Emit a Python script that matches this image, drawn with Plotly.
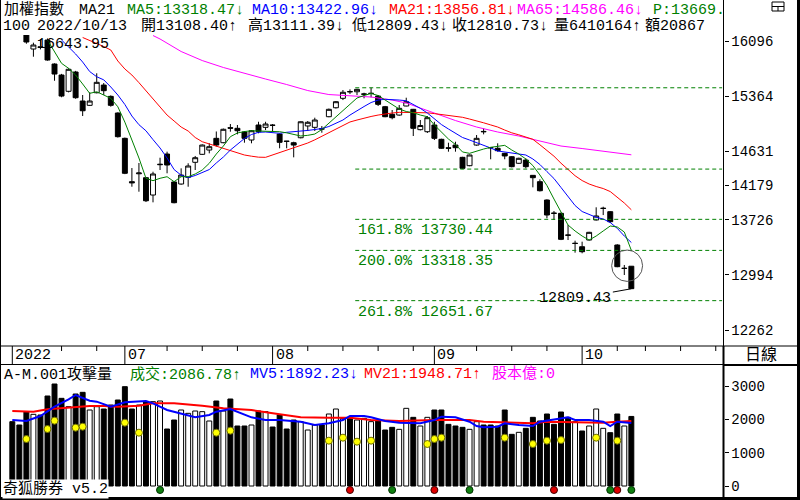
import plotly.graph_objects as go

# ---------------- data ----------------
idx = list(range(89))
opens = [16620, 16530, 16300, 15990, 16020, 16109, 15791, 15645, 15429, 15685,
         15300, 15243, 15410, 15512, 15362, 15141, 14805, 14230, 14335, 14283,
         14053, 14455, 14597, 14226, 14199, 14288, 14487, 14593, 14650, 14805,
         14747, 14946, 14938, 14889, 14783, 14982, 14951, 14980, 14862, 14768,
         14747, 14813, 14969, 14951, 14932, 15092, 15211, 15336, 15425, 15423,
         15390, 15400, 15366, 15225, 15124, 15114, 15234, 15190, 14920, 14893,
         14982, 14792, 14680, 14716, 14553, 14442, 14716, 14897, 14682, 14673,
         14606, 14561, 14474, 14517, 14314, 14230, 13987, 13813, 13810, 13522,
         13410, 13367, 13456, 13722, 13874, 13832, 13390, 13078, 13108.40]
highs = [16643.95, 16560, 16330, 16074, 16120, 16130, 15800, 15660, 15735, 15700,
         15380, 15416, 15668, 15539, 15375, 15150, 14815, 14411, 14478, 14290,
         14362, 14548, 14628, 14235, 14407, 14474, 14571, 14725, 14739, 14896,
         14935, 14995, 14982, 14902, 14915, 15025, 15025, 14995, 14870, 14771,
         14760, 15030, 15035, 15079, 14968, 15200, 15300, 15446, 15455, 15462,
         15410, 15475.89, 15380, 15235, 15181, 15247, 15344, 15195, 15048, 15101,
         15025, 14800, 14747, 14760, 14560, 14590, 14849, 14938, 14690, 14739,
         14612, 14570, 14548, 14540, 14318, 14261, 13995, 13841, 13820, 13655,
         13447, 13434, 13565, 13890, 13898, 13840, 13400, 13125, 13111.39]
lows = [16560, 16380, 16060, 15888, 15985, 15835, 15569, 15350, 15415, 15330,
        15101, 15235, 15402, 15380, 15225, 14815, 14330, 14163, 14097, 13960,
        13956, 14385, 14341, 13943, 14190, 14163, 14385, 14585, 14606, 14697,
        14740, 14893, 14858, 14747, 14739, 14872, 14915, 14893, 14673, 14673,
        14553, 14805, 14902, 14902, 14880, 15085, 15200, 15313, 15393, 15380,
        15336, 15349, 15234, 15085, 15057, 15105, 15230, 14836, 14910, 14876,
        14783, 14665, 14628, 14628, 14397.12, 14435, 14707, 14858, 14527, 14628,
        14527, 14420, 14466, 14407, 14155, 14100, 13744, 13722, 13455, 13456,
        13288, 13280, 13450, 13715, 13787, 13682, 13095, 12992, 12809.43]
closes = [16590, 16440, 16083, 16043, 16010, 15844, 15658, 15366, 15721, 15344,
          15171, 15300, 15548, 15437, 15243, 14827, 14341, 14215, 14345, 13977,
          14332, 14460, 14451, 13951, 14318, 14438, 14548, 14716, 14694, 14716,
          14925, 14940, 14906, 14805, 14906, 14893, 14995, 14978, 14752, 14765,
          14716, 15025, 15018, 15048, 14929, 15190, 15291, 15416, 15423, 15455,
          15393, 15402, 15256, 15092, 15079, 15203, 15291, 14938, 14975, 15079,
          14805, 14673, 14673, 14681, 14407, 14584, 14805, 14893, 14680, 14641,
          14571, 14429, 14540, 14429, 14283, 14110, 13788, 13810, 13465, 13520,
          13412, 13301, 13558, 13775, 13877, 13699, 13102, 13081, 12810.73]
volumes = [1930, 1830, 2230, 2150, 2130, 2700, 3060, 2630, 2380, 2760,
           2810, 2280, 2380, 2310, 2430, 2580, 2980, 2310, 2430, 2530,
           2530, 2550, 1710, 1980, 2280, 2180, 2250, 2230, 1950, 2550,
           2250, 2610, 1800, 1800, 1830, 2250, 2230, 1770, 2130, 1710,
           1980, 1930, 1680, 1830, 1830, 2160, 2310, 2030, 2050, 1980,
           2030, 1930, 1980, 1680, 1760, 1700, 2330, 2060, 1800, 2060,
           2280, 2280, 1850, 1800, 1760, 1700, 1930, 1830, 1830, 1800,
           2280, 1550, 1610, 1730, 2060, 1950, 2160, 1850, 2220, 2060,
           1930, 1650, 1800, 2310, 1730, 1600, 2160, 1800, 2086.78]

ma5_x = list(range(5, 89))
ma5 = [16109, 15954, 15800, 15734, 15645, 15526, 15402, 15423, 15380, 15336,
       15224, 15020, 14783, 14544, 14275, 14243, 14275, 14296, 14230, 14296,
       14296, 14332, 14385, 14474, 14597, 14703, 14827, 14876, 14895, 14906,
       14902, 14902, 14895, 14893, 14878, 14856, 14836, 14845, 14862, 14922,
       15008, 15088, 15174, 15260, 15340, 15373, 15400, 15373, 15313, 15247,
       15194, 15161, 15145, 15114, 15092, 14982, 14889, 14796, 14723, 14624,
       14606, 14637, 14663, 14686, 14703, 14712, 14650, 14597, 14531, 14444,
       14319, 14179, 14000, 13830, 13655, 13576, 13509, 13456, 13509, 13576,
       13642, 13629, 13562, 13318.47]
ma10_x = list(range(7, 89))
ma10 = [16110, 16023, 15924, 15817, 15691, 15622, 15581, 15486, 15380, 15254,
        15101, 14986, 14905, 14788, 14677, 14544, 14391, 14316, 14285, 14312,
        14350, 14391, 14478, 14557, 14650, 14732, 14803, 14856, 14885, 14889,
        14882, 14872, 14885, 14893, 14893, 14910, 14922, 14935, 14962, 15002,
        15048, 15114, 15174, 15227, 15280, 15313, 15323, 15323, 15313, 15304,
        15254, 15203, 15141, 15061, 14988, 14929, 14869, 14816, 14783, 14750,
        14710, 14677, 14637, 14624, 14610, 14597, 14584, 14531, 14458, 14364,
        14272, 14153, 14027, 13914, 13834, 13797, 13757, 13735, 13688, 13611,
        13509, 13422.96]
ma21_x = list(range(10, 89))
ma21 = [16143, 16103, 16070, 16023, 15977, 15831, 15725, 15645, 15544, 15433,
        15327, 15221, 15114, 15035, 14955, 14902, 14816, 14760, 14730, 14703,
        14670, 14641, 14610, 14584, 14568, 14555, 14553, 14584, 14620, 14650,
        14677, 14710, 14743, 14785, 14833, 14876, 14933, 14982, 15022, 15048,
        15075, 15095, 15114, 15130, 15141, 15150, 15150, 15146, 15145, 15144,
        15133, 15120, 15112, 15098, 15084, 15061, 15039, 15011, 14983, 14955,
        14915, 14878, 14852, 14825, 14792, 14720, 14643, 14568, 14475, 14398,
        14309, 14245, 14199, 14166, 14139, 14099, 14029, 13947, 13856.81]
ma65_x = [20, 21, 24, 27, 30, 33, 36, 39, 42, 45, 48, 51, 54, 56, 58, 60,
          63, 66, 69, 72, 75, 78, 81, 84, 88]
ma65 = [16169, 16123, 15957, 15837, 15745, 15665, 15592, 15519, 15439, 15386,
        15366, 15353, 15313, 15274, 15207, 15141, 15041, 14955, 14889, 14836,
        14769, 14703, 14670, 14637, 14586.46]

mv5_x = [0, 2, 4, 6, 8, 9, 11, 12, 14, 16, 19, 20, 22, 24, 26, 28, 29, 31, 32,
         34, 36, 38, 41, 43, 45, 47, 48, 50, 51, 53, 55, 58, 60, 61, 63, 65,
         66, 67, 69, 70, 72, 74, 75, 77, 79, 80, 82, 84, 85, 86, 88]
mv5 = [1980, 1950, 2100, 2380, 2600, 2730, 2560, 2530, 2380, 2510, 2550, 2480,
       2280, 2160, 2060, 2130, 2230, 2310, 2230, 2060, 1980, 1980, 1930, 1830,
       1880, 1980, 2100, 2100, 2060, 1950, 1900, 1880, 1980, 2080, 2060, 1930,
       1800, 1760, 1780, 1880, 1830, 1800, 1930, 2000, 2060, 1980, 1980, 1930,
       1800, 1930, 1892.23]
mv21_x = [0, 3, 5, 8, 11, 13, 15, 18, 20, 23, 27, 30, 34, 38, 41, 45, 48, 51,
          55, 60, 65, 67, 71, 74, 76, 80, 84, 86, 88]
mv21 = [2250, 2230, 2300, 2350, 2400, 2400, 2380, 2410, 2480, 2480, 2410, 2330,
        2280, 2150, 2060, 2050, 2050, 1980, 1950, 1980, 1980, 1930, 1900, 1880,
        1930, 1910, 1900, 1930, 1948.71]

yellow_x = [2, 5, 6, 9, 10, 16, 18, 29, 31, 45, 47, 49, 51, 59, 60, 61, 70, 74,
            76, 78, 83, 86]
yellow_v = [1410, 1710, 1960, 1750, 1780, 1900, 1600, 1600, 1660, 1360, 1450,
            1330, 1360, 1260, 1410, 1450, 1450, 1260, 1360, 1380, 1450, 1360]
red_sig_x = [48, 60, 77, 86]
green_sig_x = [21, 54, 65, 85, 88]

fib_start = 48.75
fib_levels = [15475.89, 14397.12, 13730.44, 13318.35, 12651.67]
fib_labels = ["", "", "161.8%", "200.0%", "261.8%"]

price_ticks = [16096, 15364, 14631, 14179, 13726, 12994, 12262]
vol_ticks = [0, 1000, 2000, 3000]
month_idx = [0, 16, 37, 60, 81]
month_lbl = ["2022", "07", "08", "09", "10"]
week_idx = [7, 12, 22, 27, 32, 42, 47, 52, 57, 66, 71, 76, 86, 90, 95, 100]

# ---------------- layout helpers ----------------
W, H = 800, 500
def px(x): return x / W
def py(y): return 1 - y / H

FONT = "Liberation Mono, Noto Sans CJK TC, monospace"
GREEN, BLUE, RED, MAG = "#008000", "#0000FF", "#FF0000", "#FF00FF"
XR = [-1.75, 101.1]

fig = go.Figure()

# ---------------- price panel ----------------
fig.add_trace(go.Candlestick(
    x=idx, open=opens, high=highs, low=lows, close=closes,
    increasing=dict(line=dict(color="black", width=1), fillcolor="white"),
    decreasing=dict(line=dict(color="black", width=1), fillcolor="black"),
    whiskerwidth=0, xaxis="x", yaxis="y", hoverinfo="skip"))
for xs, ys, c in [(ma65_x, ma65, MAG), (ma21_x, ma21, RED),
                  (ma10_x, ma10, BLUE), (ma5_x, ma5, GREEN)]:
    fig.add_trace(go.Scatter(x=xs, y=ys, mode="lines", line=dict(color=c, width=1),
                             xaxis="x", yaxis="y", hoverinfo="skip"))

# ---------------- volume panel ----------------
vol_colors = ["white" if c >= o else "black" for o, c in zip(opens, closes)]
fig.add_trace(go.Bar(x=idx, y=volumes, marker=dict(color=vol_colors,
                     line=dict(color="black", width=1)),
                     xaxis="x2", yaxis="y2", hoverinfo="skip"))
fig.add_trace(go.Scatter(x=mv21_x, y=mv21, mode="lines", line=dict(color=RED, width=2),
                         xaxis="x2", yaxis="y2", hoverinfo="skip"))
fig.add_trace(go.Scatter(x=mv5_x, y=mv5, mode="lines", line=dict(color=BLUE, width=2),
                         xaxis="x2", yaxis="y2", hoverinfo="skip"))
fig.add_trace(go.Scatter(x=yellow_x, y=yellow_v, mode="markers",
                         marker=dict(color="#FFFF00", size=7, line=dict(color="#707000", width=1)),
                         xaxis="x2", yaxis="y2", hoverinfo="skip", cliponaxis=False))
SIG_Y = -120
fig.add_trace(go.Scatter(x=red_sig_x, y=[SIG_Y] * len(red_sig_x), mode="markers",
                         marker=dict(color="#E00000", size=7, line=dict(color="#400000", width=1)),
                         xaxis="x2", yaxis="y2", hoverinfo="skip", cliponaxis=False))
fig.add_trace(go.Scatter(x=green_sig_x, y=[SIG_Y] * len(green_sig_x), mode="markers",
                         marker=dict(color="#108010", size=7, line=dict(color="#003000", width=1)),
                         xaxis="x2", yaxis="y2", hoverinfo="skip", cliponaxis=False))

shapes = []
annotations = []

# fibonacci lines
for lv, lb in zip(fib_levels, fib_labels):
    shapes.append(dict(type="line", xref="x", yref="y", x0=fib_start, x1=XR[1] - 0.2,
                       y0=lv, y1=lv, line=dict(color=GREEN, width=1, dash="4px,3px")))
    if lb:
        annotations.append(dict(xref="x", yref="y", x=fib_start, y=lv, xanchor="left",
                                yanchor="top", yshift=-1, xshift=1, showarrow=False,
                                text=f"{lb} {lv:.2f}",
                                font=dict(family=FONT, size=15, color=GREEN)))

# low marker + circle
annotations.append(dict(xref="x", yref="y", x=88, y=lows[88], text=f"{lows[88]:.2f}",
                        showarrow=True, arrowhead=0, arrowwidth=1, arrowcolor="black",
                        ax=-56, ay=10, standoff=0,
                        font=dict(family=FONT, size=15, color="black")))
shapes.append(dict(type="circle", xref="x", yref="y", x0=85.2, x1=89.6, y0=12907, y1=13323,
                   line=dict(color="#555555", width=1)))
annotations.append(dict(xref="paper", yref="paper", x=px(35), y=py(45), xanchor="left",
                        yanchor="middle", showarrow=False, text=f"{highs[0]:.2f}",
                        font=dict(family=FONT, size=15, color="black")))

# date strip
for i, lb in zip(month_idx, month_lbl):
    shapes.append(dict(type="line", xref="x", yref="paper", x0=i, x1=i,
                       y0=py(346), y1=py(364), line=dict(color="black", width=1)))
    annotations.append(dict(xref="x", yref="paper", x=i, y=py(355), xanchor="left",
                            yanchor="middle", xshift=1, showarrow=False, text=lb,
                            font=dict(family=FONT, size=15, color="black")))
for i in week_idx:
    shapes.append(dict(type="line", xref="x", yref="paper", x0=i, x1=i,
                       y0=py(346), y1=py(351), line=dict(color="black", width=1)))
annotations.append(dict(xref="paper", yref="paper", x=px(761), y=py(355), showarrow=False,
                        xanchor="center", yanchor="middle",
                        text="日線", font=dict(family=FONT, size=16, color="black")))

# frame lines
def hline(y, x0, x1, w=1):
    shapes.append(dict(type="line", xref="paper", yref="paper", x0=px(x0), x1=px(x1),
                       y0=py(y), y1=py(y), line=dict(color="black", width=w)))
def vline(x, y0, y1, w=1):
    shapes.append(dict(type="line", xref="paper", yref="paper", x0=px(x), x1=px(x),
                       y0=py(y0), y1=py(y1), line=dict(color="black", width=w)))
vline(0.5, 0, 500)
vline(723.5, 0, 346)
vline(723.5, 346, 500, 2)
vline(798.5, 0, 500, 3)
hline(346, 0, 800)
hline(364.5, 0, 723)
hline(365, 723, 800, 2)
hline(498.5, 0, 800, 3)
# small window icon
shapes.append(dict(type="rect", xref="paper", yref="paper", x0=px(772), x1=px(784),
                   y0=py(11), y1=py(2), line=dict(color="black", width=1)))
hline(6.5, 772, 784)
vline(778, 6.5, 11)

# header texts
def txt(x, y, s, color="black", size=15, bg=None):
    d = dict(xref="paper", yref="paper", x=px(x), y=py(y), xanchor="left",
             yanchor="middle", showarrow=False, text=s,
             font=dict(family=FONT, size=size, color=color))
    if bg:
        d["bgcolor"] = bg
        d["borderpad"] = 0
    annotations.append(d)

txt(2, 10, "加權指數")
txt(77, 10, "MA21")
txt(125, 10, f"MA5:{ma5[-1]:.2f}↓", GREEN)
txt(250, 10, f"MA10:{ma10[-1]:.2f}↓", BLUE)
txt(387, 10, f"MA21:{ma21[-1]:.2f}↓", RED)
txt(515, 10, f"MA65:{ma65[-1]:.2f}↓", MAG)
txt(651, 10, "P:13669.", GREEN)

txt(1, 26, "100")
txt(35, 26, "2022/10/13")
txt(139, 26, f"開{opens[-1]:.2f}↑")
txt(246, 26, f"高{highs[-1]:.2f}↓")
txt(350, 26, f"低{lows[-1]:.2f}↓")
txt(450, 26, f"收{closes[-1]:.2f}↓")
txt(552, 26, "量6410164↑")
txt(643, 26, "額20867")

txt(2, 374, "A-M.001攻擊量")
txt(128, 374, f"成交:{volumes[-1]:.2f}↑", GREEN)
txt(248, 374, f"MV5:{mv5[-1]:.2f}↓", BLUE)
txt(362, 374, f"MV21:{mv21[-1]:.2f}↑", RED)
txt(490, 374, "股本億:0", MAG)
txt(2, 489, "奇狐勝券 v5.2", bg="white")

axis_common = dict(showgrid=False, zeroline=False)
fig.update_layout(
    width=W, height=H, margin=dict(l=0, r=0, t=0, b=0),
    paper_bgcolor="white", plot_bgcolor="white", showlegend=False,
    hovermode=False, boxgap=0.3, boxgroupgap=0, bargap=0.3,
    xaxis=dict(domain=[0, px(723.5)], range=XR, showticklabels=False,
               rangeslider=dict(visible=False), anchor="y", **axis_common),
    xaxis2=dict(domain=[0, px(723.5)], range=XR, showticklabels=False,
                matches="x", anchor="y2", **axis_common),
    yaxis=dict(domain=[py(346), py(35)], range=[12050, 16176], side="right",
               anchor="x", tickvals=price_ticks, ticktext=[str(t) for t in price_ticks],
               ticks="outside", ticklen=4, tickcolor="black", tickwidth=1,
               tickfont=dict(family=FONT, size=14, color="black"), **axis_common),
    yaxis2=dict(domain=[py(498), py(365)], range=[-360, 3630], side="right",
                anchor="x2", tickvals=vol_ticks, ticktext=[str(t) for t in vol_ticks],
                ticks="outside", ticklen=4, tickcolor="black", tickwidth=1,
                tickfont=dict(family=FONT, size=14, color="black"), **axis_common),
    shapes=shapes, annotations=annotations,
)

fig.write_html("out.html")
